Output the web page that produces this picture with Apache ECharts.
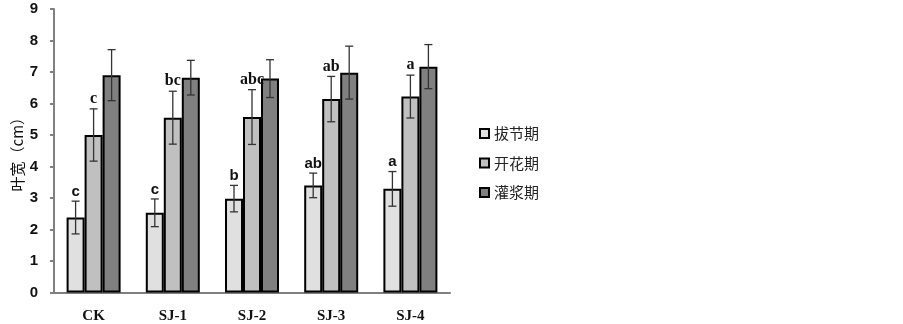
<!DOCTYPE html>
<html>
<head>
<meta charset="utf-8">
<script src="https://cdn.jsdelivr.net/npm/echarts@6/dist/echarts.min.js"></script>
<style>
  html, body { margin: 0; padding: 0; background: #fff; }
  #chart { width: 903px; height: 324px; }
</style>
</head>
<body>
<div id="chart"></div>
<script>
// 处理组
const categories = ['CK', 'SJ-1', 'SJ-2', 'SJ-3', 'SJ-4']
// 叶宽均值 (cm)
const jointing = [2.38, 2.53, 2.98, 3.40, 3.29]
const flowering = [5.00, 5.55, 5.57, 6.14, 6.22]
const filling = [6.90, 6.82, 6.79, 6.98, 7.17]
// 误差
const jointingErr = [0.52, 0.44, 0.42, 0.39, 0.55]
const floweringErr = [0.83, 0.84, 0.87, 0.72, 0.68]
const fillingErr = [0.81, 0.55, 0.60, 0.84, 0.70]
// 显著性字母
const jointingSig = ['c', 'c', 'b', 'ab', 'a']
const floweringSig = ['c', 'bc', 'abc', 'ab', 'a']
const fillingSig = ['', '', '', '', '']
const seriesNames = ['拔节期', '开花期', '灌浆期']
const yTicks = [0, 1, 2, 3, 4, 5, 6, 7, 8, 9]

const BAR_W = 18
const colors = ['#e0e0e0', '#c0c0c0', '#808080']

const chart = echarts.init(document.getElementById('chart'))

// 误差线 + 字母, offset 为柱子相对类目中心的偏移
function errorSeries (values, errs, sigs, offset, sigFont) {
  return {
    type: 'custom',
    silent: true,
    z: 5,
    data: values.map((v, i) => [i, v, errs[i]]),
    renderItem: function (params, api) {
      const i = api.value(0)
      const v = api.value(1)
      const e = api.value(2)
      const top = api.coord([i, v + e])
      const bot = api.coord([i, v - e])
      const x = top[0] + offset
      const cap = 4
      const style = { stroke: '#333', lineWidth: 1.3 }
      const children = [
        { type: 'line', shape: { x1: x, y1: top[1], x2: x, y2: bot[1] }, style: style },
        { type: 'line', shape: { x1: x - cap, y1: top[1], x2: x + cap, y2: top[1] }, style: style },
        { type: 'line', shape: { x1: x - cap, y1: bot[1], x2: x + cap, y2: bot[1] }, style: style },
      ]
      const s = sigs[i]
      if (s) {
        children.push({
          type: 'text',
          style: {
            x: x,
            y: top[1] - 2,
            text: s,
            align: 'center',
            verticalAlign: 'bottom',
            font: sigFont,
            fill: '#111',
          },
        })
      }
      return { type: 'group', children: children }
    },
  }
}

const barBase = {
  type: 'bar',
  barWidth: BAR_W,
  barGap: '0%',
  itemStyle: { borderColor: '#000', borderWidth: 2 },
}

const option = {
  animation: false,
  grid: { left: 54, right: 453, top: 9, bottom: 31.5 },
  legend: {
    orient: 'vertical',
    left: 474,
    top: 121,
    itemWidth: 9,
    itemHeight: 9,
    itemGap: 14.5,
    icon: 'rect',
    data: seriesNames,
    itemStyle: { borderColor: '#000', borderWidth: 2 },
    textStyle: { fontFamily: 'Noto Sans CJK SC', fontSize: 15, color: '#222' },
  },
  xAxis: {
    type: 'category',
    data: categories,
    axisLine: { lineStyle: { color: '#808080', width: 2 } },
    axisTick: { show: false },
    axisLabel: {
      margin: 16,
      fontFamily: 'Liberation Serif',
      fontWeight: 'bold',
      fontSize: 15,
      color: '#111',
    },
  },
  yAxis: {
    type: 'value',
    min: yTicks[0],
    max: yTicks[yTicks.length - 1],
    interval: 1,
    name: '叶宽（cm）',
    nameLocation: 'middle',
    nameGap: 29,
    nameRotate: 90,
    nameTextStyle: { fontFamily: 'Noto Sans CJK SC', fontSize: 15, color: '#111' },
    splitLine: { show: false },
    axisLine: { show: true, lineStyle: { color: '#808080', width: 2 } },
    axisTick: { show: true, length: 4, lineStyle: { color: '#808080', width: 2 } },
    axisLabel: {
      margin: 16,
      fontFamily: 'Liberation Sans',
      fontWeight: 'bold',
      fontSize: 15,
      color: '#111',
    },
  },
  series: [
    Object.assign({}, barBase, { name: seriesNames[0], data: jointing, itemStyle: Object.assign({}, barBase.itemStyle, { color: colors[0] }) }),
    Object.assign({}, barBase, { name: seriesNames[1], data: flowering, itemStyle: Object.assign({}, barBase.itemStyle, { color: colors[1] }) }),
    Object.assign({}, barBase, { name: seriesNames[2], data: filling, itemStyle: Object.assign({}, barBase.itemStyle, { color: colors[2] }) }),
    errorSeries(jointing, jointingErr, jointingSig, -BAR_W, 'bold 15px "Liberation Sans"'),
    errorSeries(flowering, floweringErr, floweringSig, 0, 'bold 16px "Liberation Serif"'),
    errorSeries(filling, fillingErr, fillingSig, BAR_W, 'bold 16px "Liberation Serif"'),
  ],
}

chart.setOption(option)
</script>
</body>
</html>
